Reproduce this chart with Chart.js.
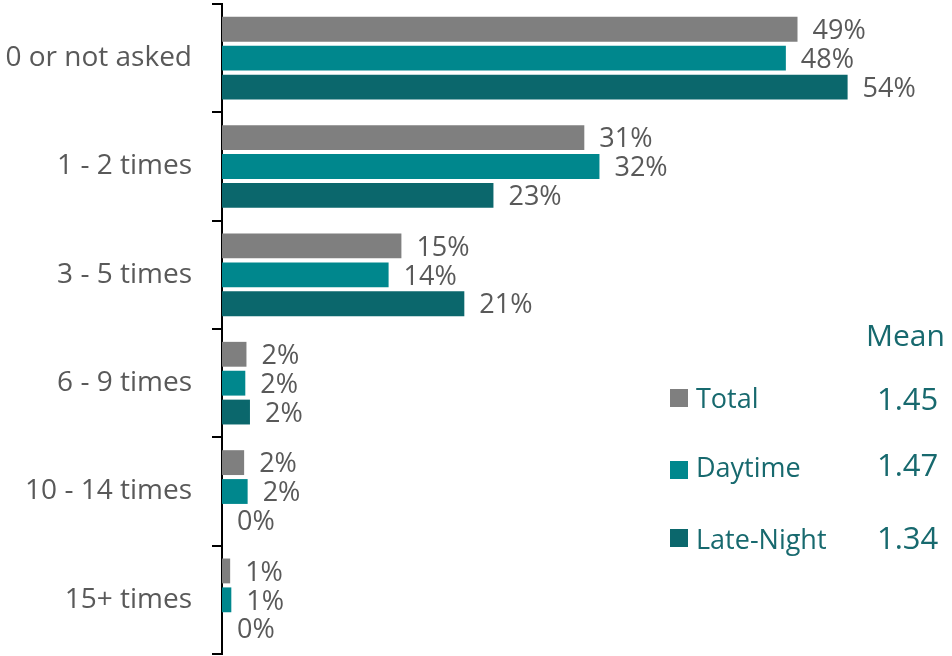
<!DOCTYPE html>
<html>
<head>
<meta charset="utf-8">
<script src="https://cdn.jsdelivr.net/npm/chart.js@4"></script>
<style>
  html, body { margin: 0; padding: 0; background: #fff; }
  #wrap { position: relative; width: 952px; height: 656px; }
</style>
</head>
<body>
<div id="wrap"><canvas id="chart" width="952" height="656"></canvas></div>
<script>
const categories = ['0 or not asked', '1 - 2 times', '3 - 5 times', '6 - 9 times', '10 - 14 times', '15+ times'];
const seriesNames = ['Total', 'Daytime', 'Late-Night'];
const totalValues = [49.4, 31.1, 15.4, 2.1, 1.9, 0.7];
const daytimeValues = [48.4, 32.4, 14.3, 2.0, 2.2, 0.8];
const lateNightValues = [53.7, 23.3, 20.8, 2.4, 0, 0];
const meanValues = ['1.45', '1.47', '1.34'];

const colors = ['#7f7f7f', '#00878d', '#0b676c'];
const textGray = '#595959';
const legendTeal = '#17696e';
const FONT = "'Open Sans', 'Noto Sans', sans-serif";

// value labels to the right of every bar
const barLabels = {
  id: 'barLabels',
  afterDatasetsDraw(chart) {
    const ctx = chart.ctx;
    ctx.save();
    ctx.font = '27px ' + FONT;
    ctx.fillStyle = textGray;
    ctx.textAlign = 'left';
    ctx.textBaseline = 'middle';
    chart.data.datasets.forEach((ds, i) => {
      chart.getDatasetMeta(i).data.forEach((bar, j) => {
        ctx.fillText(Math.round(ds.data[j]) + '%', bar.x + 15, bar.y + 2);
      });
    });
    ctx.restore();
  }
};

// legend block with means, drawn on the right
const meanLegend = {
  id: 'meanLegend',
  afterDraw(chart) {
    const ctx = chart.ctx;
    ctx.save();
    ctx.textBaseline = 'alphabetic';
    ctx.fillStyle = legendTeal;
    ctx.font = '30px ' + FONT;
    ctx.fillText('Mean', 866, 346);
    const rows = [
      { box: 389, text: 408, val: 410 },
      { box: 461, text: 477, val: 476 },
      { box: 529, text: 549, val: 549 }
    ];
    seriesNames.forEach((name, i) => {
      const r = rows[i];
      ctx.fillStyle = colors[i];
      ctx.fillRect(670, r.box, 18, 18);
      ctx.fillStyle = legendTeal;
      ctx.font = '27px ' + FONT;
      ctx.fillText(name, 696, r.text);
      ctx.font = '31px ' + FONT;
      ctx.fillText(meanValues[i], 877, r.val);
    });
    ctx.restore();
  }
};

new Chart(document.getElementById('chart'), {
  type: 'bar',
  data: {
    labels: categories,
    datasets: [
      { label: seriesNames[0], data: totalValues, backgroundColor: colors[0] },
      { label: seriesNames[1], data: daytimeValues, backgroundColor: colors[1] },
      { label: seriesNames[2], data: lateNightValues, backgroundColor: colors[2] }
    ]
  },
  options: {
    indexAxis: 'y',
    responsive: false,
    animation: false,
    layout: { padding: { top: 4, bottom: 2, left: 0, right: 31 } },
    datasets: {
      bar: { categoryPercentage: 0.8, barPercentage: 0.86, borderWidth: 0 }
    },
    plugins: {
      legend: { display: false },
      tooltip: { enabled: false }
    },
    scales: {
      x: {
        display: false,
        min: 0,
        max: 60
      },
      y: {
        afterFit(scale) {
          scale.width = 222;
          scale.paddingTop = 0;
          scale.paddingBottom = 0;
        },
        border: { display: true, color: '#000', width: 2 },
        grid: {
          offset: true,
          drawOnChartArea: false,
          drawTicks: true,
          tickLength: 10,
          color: '#000',
          lineWidth: 2
        },
        ticks: {
          color: textGray,
          padding: 20,
          font: { family: FONT, size: 28 }
        }
      }
    }
  },
  plugins: [barLabels, meanLegend]
});
</script>
</body>
</html>
